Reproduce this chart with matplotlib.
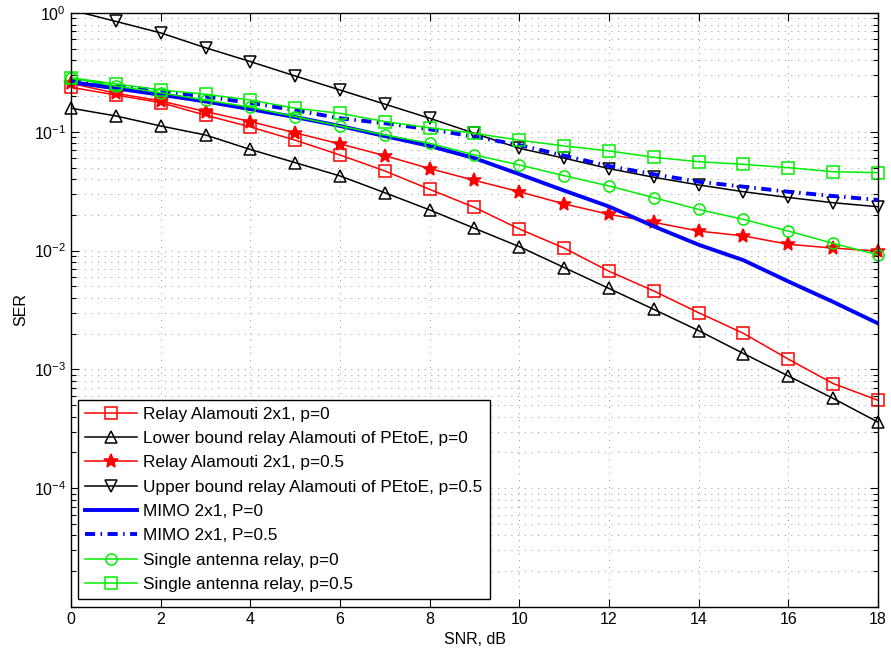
import numpy as np
import matplotlib
matplotlib.use("Agg")
import matplotlib.pyplot as plt
from matplotlib.lines import Line2D
from matplotlib.ticker import LogLocator, FixedLocator, FixedFormatter, NullFormatter

snr_db = np.arange(0, 19)

relay_p0 = [0.237, 0.204, 0.176, 0.138, 0.110, 0.085, 0.0638, 0.0468, 0.0328, 0.0231,
            0.0152, 0.0105, 0.0067, 0.00457, 0.0030, 0.00201, 0.00122, 0.00076, 0.00055]
lower_p0 = [0.158, 0.136, 0.112, 0.094, 0.071, 0.055, 0.0425, 0.0307, 0.022, 0.0154,
            0.0108, 0.0072, 0.0048, 0.0032, 0.00212, 0.00136, 0.00088, 0.00057, 0.00036]
relay_p05 = [0.256, 0.211, 0.182, 0.148, 0.122, 0.098, 0.079, 0.063, 0.049, 0.039,
             0.0313, 0.0247, 0.0202, 0.0173, 0.0146, 0.0133, 0.0113, 0.0105, 0.0099]
upper_p05 = [1.06, 0.85, 0.68, 0.51, 0.39, 0.295, 0.225, 0.171, 0.130, 0.097,
             0.0726, 0.060, 0.049, 0.0414, 0.0357, 0.0313, 0.028, 0.0253, 0.0234]
mimo_p0 = [0.262, 0.232, 0.205, 0.18, 0.155, 0.133, 0.112, 0.092, 0.076, 0.060,
           0.044, 0.032, 0.0235, 0.016, 0.0112, 0.0083, 0.0055, 0.0037, 0.00244]
mimo_p05 = [0.273, 0.245, 0.22, 0.198, 0.175, 0.152, 0.130, 0.118, 0.105, 0.091,
            0.0774, 0.063, 0.0515, 0.0439, 0.038, 0.0345, 0.0313, 0.0288, 0.0267]
single_p0 = [0.282, 0.243, 0.213, 0.185, 0.161, 0.134, 0.112, 0.094, 0.080, 0.0638,
             0.0526, 0.0427, 0.035, 0.0279, 0.0222, 0.0183, 0.0146, 0.0115, 0.0092]
single_p05 = [0.285, 0.253, 0.225, 0.207, 0.185, 0.158, 0.143, 0.122, 0.108, 0.097,
              0.085, 0.076, 0.069, 0.061, 0.056, 0.0532, 0.0499, 0.0461, 0.0453]

y_tick_vals = [1e-5, 1e-4, 1e-3, 1e-2, 1e-1, 1e0]
y_tick_text = ["", r"$10^{-4}$", r"$10^{-3}$", r"$10^{-2}$", r"$10^{-1}$", r"$10^{0}$"]

plt.rcParams["font.family"] = ["Liberation Sans", "DejaVu Sans"]
plt.rcParams["mathtext.fontset"] = "custom"
plt.rcParams["mathtext.rm"] = "Liberation Sans"
plt.rcParams["mathtext.it"] = "Liberation Sans"
plt.rcParams["font.size"] = 11.5

fig = plt.figure(figsize=(8.91, 6.55), dpi=100)
ax = fig.add_axes([71 / 891, 48 / 655, 807 / 891, 594 / 655])
ax.set_yscale("log")
ax.set_xlim(0, 18)
ax.set_ylim(1e-5, 1)

handles = []


def marked_curve(y, color, marker, ms, label, filled=False):
    y = np.asarray(y)
    face = color if filled else "none"
    # line is clipped to the box, markers are not (only points inside the range)
    ax.plot(snr_db, y, color=color, lw=1.1)
    inside = (y <= 1) & (y >= 1e-5)
    ax.plot(snr_db[inside], y[inside], ls="none", marker=marker, ms=ms,
            mfc=face, mec=color, mew=1.1, clip_on=False)
    handles.append(Line2D([], [], color=color, lw=1.1, marker=marker, ms=ms,
                          mfc=face, mec=color, mew=1.1, label=label))


marked_curve(relay_p0, "red", "s", 8, "Relay Alamouti 2x1, p=0")
marked_curve(lower_p0, "black", "^", 9, "Lower bound relay Alamouti of PEtoE, p=0")
marked_curve(relay_p05, "red", "*", 10, "Relay Alamouti 2x1, p=0.5", filled=True)
marked_curve(upper_p05, "black", "v", 9, "Upper bound relay Alamouti of PEtoE, p=0.5")

l1, = ax.plot(snr_db, mimo_p0, color="blue", lw=2.8, label="MIMO 2x1, P=0")
l2, = ax.plot(snr_db, mimo_p05, color="blue", lw=2.8, ls=(0, (2.6, 1.4, 0.4, 1.4)),
              label="MIMO 2x1, P=0.5")
handles += [l1, l2]

marked_curve(single_p0, "#00ee00", "o", 8, "Single antenna relay, p=0")
marked_curve(single_p05, "#00ee00", "s", 8, "Single antenna relay, p=0.5")

# axes ticks and dotted grid
ax.set_xticks(np.arange(0, 19, 2))
ax.yaxis.set_major_locator(FixedLocator(y_tick_vals))
ax.yaxis.set_major_formatter(FixedFormatter(y_tick_text))
ax.yaxis.set_minor_locator(LogLocator(base=10, subs=np.arange(2, 10), numticks=20))
ax.yaxis.set_minor_formatter(NullFormatter())
ax.tick_params(which="both", direction="in", top=True, right=True, width=0.8)
ax.tick_params(which="major", length=6)
ax.tick_params(which="minor", length=3.5)
ax.grid(True, which="major", axis="both", color="0.45", lw=0.6, ls=(0, (1, 7)))
ax.grid(True, which="minor", axis="y", color="0.45", lw=0.6, ls=(0, (1, 7)))
for sp in ax.spines.values():
    sp.set_linewidth(1.0)

ax.set_xlabel("SNR, dB", labelpad=4)
ax.set_ylabel("SER", labelpad=4)

leg = ax.legend(handles=handles, loc="lower left", bbox_to_anchor=(0.0087, 0.0135),
                borderaxespad=0, fancybox=False, framealpha=1, edgecolor="black",
                handlelength=3.0, handletextpad=0.4, labelspacing=0.54,
                borderpad=0.4, fontsize=12.4)
leg.get_frame().set_linewidth(1.0)

fig.savefig("out.png", dpi=100)
